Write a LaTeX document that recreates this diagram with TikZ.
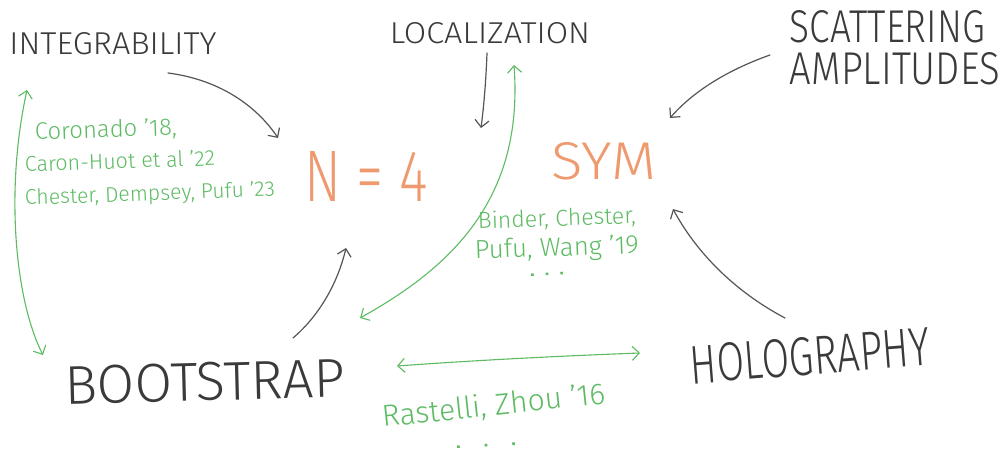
\documentclass[tikz,border=0pt]{standalone}
\usepackage{fontspec}
\setmainfont{Fira Sans Light}
\usetikzlibrary{arrows.meta}
\definecolor{ink}{HTML}{3A3A3A}
\definecolor{arr}{HTML}{555555}
\definecolor{grn}{HTML}{5DBB63}
\definecolor{org}{HTML}{EE9A6E}
\newcommand\fitwh[3]{\resizebox{#1}{#2}{#3}}
\newcommand\fitw[2]{\resizebox{#1}{!}{#2}}
\newcommand\onedot{\rule{2.6pt}{2.6pt}}
\newcommand\dotsrow[1]{\onedot\hspace{#1}\onedot\hspace{#1}\onedot}
\begin{document}
\begin{tikzpicture}[x=1pt,y=1pt,
  lbl/.style={inner sep=0pt, text=ink},
  cite/.style={inner sep=0pt, text=grn, anchor=base west},
  ttl/.style={inner sep=0pt, text=org},
  garrow/.style={draw=arr, line width=1.2pt, line cap=round, -{Straight Barb[length=7pt,width=14pt]}},
  grarrow/.style={draw=grn, line width=1.1pt, line cap=round, {Straight Barb[length=7pt,width=14pt]}-{Straight Barb[length=7pt,width=14pt]}},
]
\useasboundingbox[fill=white] (0,0) rectangle (1001,-454);

% main labels
\node[lbl] (integ) at (113,-44) {\fitwh{207pt}{22pt}{INTEGRABILITY}};
\node[lbl] (loc) at (490,-33) {\fitwh{200pt}{21pt}{LOCALIZATION}};
\node[lbl, align=left] (scat) at (895,-48)
  {\fitwh{195pt}{32pt}{SCATTERING}\\[8pt]\fitwh{210pt}{32pt}{AMPLITUDES}};
\node[lbl, rotate=1.5] (boot) at (205,-382) {\fitwh{280pt}{38pt}{BOOTSTRAP}};
\node[lbl, rotate=4.5] (holo) at (810,-356) {\fitwh{240pt}{38pt}{HOLOGRAPHY}};

\node[ttl] (n4) at (366,-176) {\fitwh{123pt}{50pt}{N = 4}};
\node[ttl] (sym) at (604,-161) {\fitwh{105pt}{37pt}{SYM}};

% citations
\node[cite, rotate=2] (c1) at (35,-140) {\fitw{142pt}{Coronado '18,}};
\node[cite, rotate=2] (c2) at (25,-172) {\fitw{190pt}{Caron-Huot et al '22}};
\node[cite, rotate=2] (c3) at (25,-205) {\fitw{250pt}{Chester, Dempsey, Pufu '23}};

\node[cite, rotate=2] (b1) at (478,-229) {\fitw{158pt}{Binder, Chester,}};
\node[cite, rotate=2] (b2) at (475,-259) {\fitw{164pt}{Pufu, Wang '19}};
\node[cite, rotate=3] (b3) at (531,-276) {\dotsrow{12pt}};

\node[cite, rotate=6] (r1) at (383,-427) {\fitw{224pt}{Rastelli, Zhou '16}};
\node[cite, rotate=3] (r2) at (457,-448) {\dotsrow{25pt}};

% connector end points
\coordinate (integ-out) at (168,-73);
\coordinate (n4-in1) at (278,-138);
\coordinate (loc-out) at (487,-53);
\coordinate (loc-in) at (481,-128);
\coordinate (scat-out) at (770,-55);
\coordinate (sym-in1) at (670,-118);
\coordinate (holo-out) at (785,-318);
\coordinate (sym-in2) at (673,-209);
\coordinate (boot-out) at (293,-338);
\coordinate (n4-in2) at (346,-248);
\coordinate (loc-g) at (514,-65);
\coordinate (boot-g) at (360,-318);
\coordinate (integ-g) at (27,-90);
\coordinate (boot-g2) at (43,-355);
\coordinate (boot-g3) at (397,-366);
\coordinate (holo-g) at (640,-353);

% gray arrows
\draw[garrow] (integ-out) .. controls (222,-80) and (258,-108) .. (n4-in1);
\draw[garrow] (loc-out) .. controls (486,-80) and (484,-105) .. (loc-in);
\draw[garrow] (scat-out) .. controls (722,-72) and (690,-95) .. (sym-in1);
\draw[garrow] (holo-out) .. controls (732,-290) and (695,-250) .. (sym-in2);
\draw[garrow] (boot-out) .. controls (320,-315) and (338,-282) .. (n4-in2);

% green arrows
\draw[grarrow] (loc-g) .. controls (524,-200) and (450,-268) .. (boot-g);
\draw[grarrow] (integ-g) .. controls (5,-190) and (15,-300) .. (boot-g2);
\draw[grarrow] (boot-g3) .. controls (480,-360) and (560,-356) .. (holo-g);
\end{tikzpicture}
\end{document}
